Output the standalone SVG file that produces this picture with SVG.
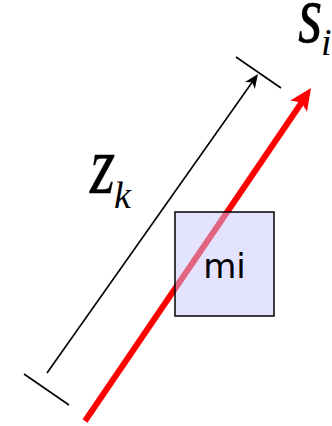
<svg xmlns="http://www.w3.org/2000/svg" width="332" height="426" viewBox="0 0 332 426">
<style>
.dim{stroke:#000;stroke-width:1.6;fill:none}
.lbl{font-family:"Liberation Serif","Times New Roman",serif;font-style:italic;fill:#000}
.big{font-size:68px;stroke:#000;stroke-width:0.3}
.sub{font-size:38px}
.node{fill:#c8c8ff;fill-opacity:0.5;stroke:#000;stroke-width:1.5}
.nodetxt{font-family:"DejaVu Sans",sans-serif;font-size:34px;fill:#000;text-anchor:middle}
</style>
<rect width="332" height="426" fill="#fff"/>
<g id="connectors">
  <g id="dimension">
    <line class="dim" x1="47" y1="373" x2="253" y2="81"/>
    <polygon points="258,74 245,82 252.2,82.2 254.8,88.9" fill="#000"/>
    <line class="dim" x1="236" y1="57" x2="281" y2="88"/>
    <line class="dim" x1="24" y1="374" x2="69" y2="405"/>
  </g>
  <g id="red-arrow">
    <line x1="85" y1="421" x2="302" y2="102" stroke="#f00" stroke-width="6"/>
    <polygon points="311,88 290.4,100.6 301.5,102.5 307,111.8" fill="#f00"/>
  </g>
</g>
<g id="node-mi">
  <rect class="node" x="175" y="212" width="99" height="104"/>
  <text class="nodetxt" x="224.5" y="278">mi</text>
</g>
<g id="label-s">
  <text class="lbl big" transform="translate(298,42) scale(0.92,1.2)">s</text>
  <text class="lbl sub" x="321" y="55">i</text>
</g>
<g id="label-z">
  <text class="lbl big" transform="translate(90,193) scale(0.95,1.2)">z</text>
  <text class="lbl sub" x="114" y="208">k</text>
</g>
</svg>
